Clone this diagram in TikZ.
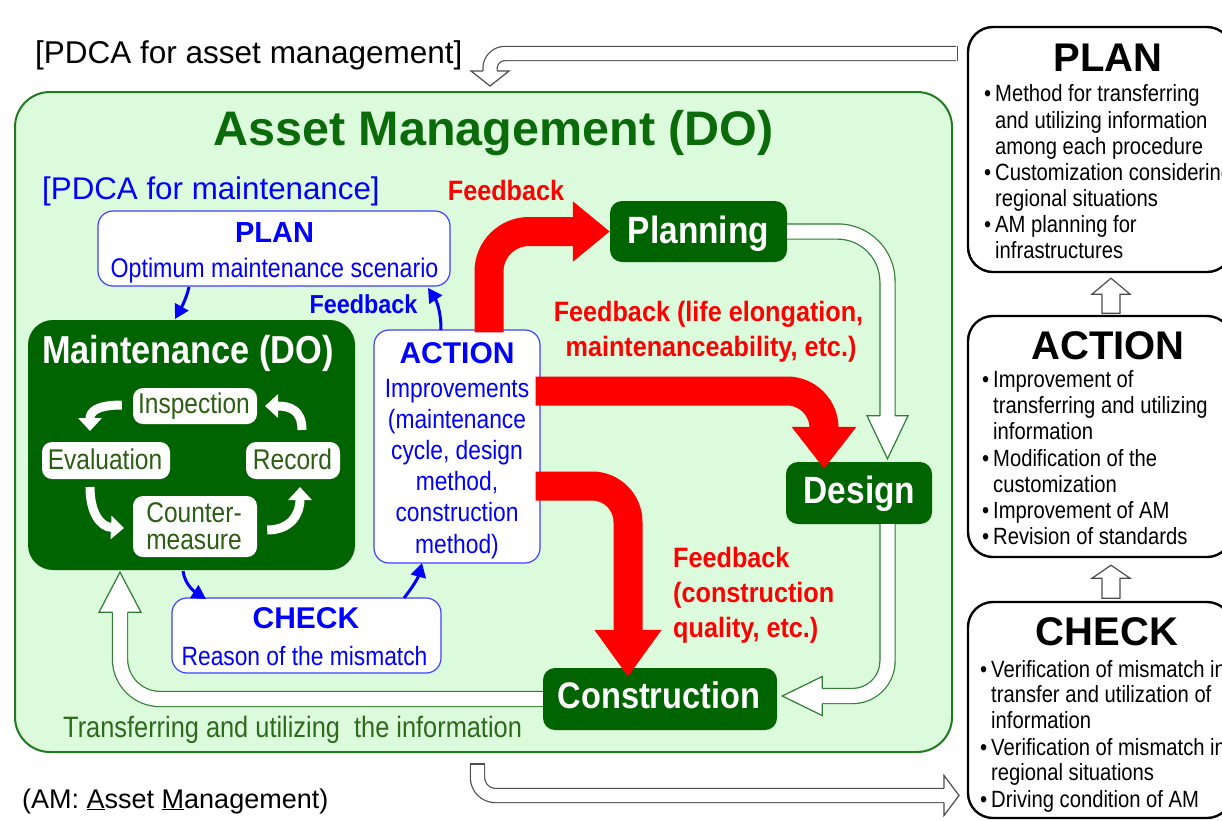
\documentclass[tikz,border=0pt]{standalone}
\usepackage{fontspec}
\setmainfont{Liberation Sans}
\newfontfamily\nar[FakeStretch=0.86]{Liberation Sans}
\newfontfamily\cnd[FakeStretch=0.88]{Liberation Sans}
\newfontfamily\redf[FakeStretch=0.9]{Liberation Sans}
\usetikzlibrary{arrows.meta,calc}
\newcommand\fs[1]{\fontsize{#1}{#1}\selectfont}
\definecolor{dg}{HTML}{006400}
\definecolor{lgreen}{HTML}{DCFADC}
\definecolor{bgstroke}{HTML}{207A20}
\definecolor{tgreen}{HTML}{0B6B0B}
\definecolor{igreen}{HTML}{2B5E12}
\definecolor{ttgreen}{HTML}{2E6A1C}
\definecolor{hstroke}{HTML}{2E7D32}
\definecolor{bblue}{HTML}{0000FF}
\definecolor{bstroke}{HTML}{4040FF}
\definecolor{ogray}{HTML}{4D4D4D}
\newcommand\hhead[6]{%
  \begin{scope}[shift={#1},rotate=#2]
    \fill[white] (0,0) -- (-#3,#4) -- (-#3,-#4) -- cycle;
    \draw[draw=#6,line width=1.2pt,line join=miter] (-#3,#5) -- (-#3,#4) -- (0,0) -- (-#3,-#4) -- (-#3,-#5);
  \end{scope}}
\tikzset{
  lbl/.style={inner sep=0pt, anchor=base},
  lblw/.style={inner sep=0pt, anchor=base west},
  gbox/.style={fill=dg, rounded corners=12pt, inner sep=0pt},
  wbox/.style={fill=white, rounded corners=10pt, inner sep=0pt},
  bbox/.style={draw=bstroke, line width=1.2pt, fill=white, rounded corners=15pt, inner sep=0pt},
  rbox/.style={draw=black, line width=2.4pt, fill=white, rounded corners=25pt, inner sep=0pt},
  holg/.style={draw=hstroke, line width=1.2pt, double=white, double distance=14pt},
  holo/.style={draw=ogray, line width=1.2pt, double=white, double distance=13pt},
  redarr/.style={draw=red, line width=29pt, rounded corners=40pt},
  barr/.style={draw=bblue, line width=3pt, -{Triangle[length=14pt,width=15pt]}},
  warr/.style={draw=white, line width=9pt, -{Triangle[length=13pt,width=23pt]}},
  rtxt/.style={lblw, font=\nar\fs{23.5}},
  atxt/.style={lbl, font=\nar\fs{26.5}, text=bblue},
}
\begin{document}
\begin{tikzpicture}[x=1pt,y=-1pt]
\useasboundingbox (0,0) rectangle (1222,820);
\clip (0,0) rectangle (1222,820);
\fill[white] (0,0) rectangle (1222,820);

% ---------- big asset management box ----------
\node[draw=bgstroke, line width=2pt, fill=lgreen, rounded corners=35pt, minimum width=937pt, minimum height=660pt, inner sep=0pt] (am) at (483.5,422) {};
\node[lbl, font=\fs{48.5}\bfseries, text=tgreen] (amtitle) at (493.5,145) {Asset Management (DO)};
\node[lblw, font=\fs{31.5}] (pdcaam) at (35,63) {[PDCA for asset management]};
\node[lblw, font=\fs{31.3}, text=bblue] (pdcam) at (42,199) {[PDCA for maintenance]};

% ---------- right boxes ----------
\node[rbox, minimum width=264pt, minimum height=245pt] (rplan) at (1100,149.5) {};
\node[rbox, minimum width=264pt, minimum height=241pt] (raction) at (1100,436.5) {};
\node[rbox, minimum width=264pt, minimum height=216pt] (rcheck) at (1100,710) {};

\node[lbl, font=\fs{40}\bfseries] (rplanh) at (1108,71) {PLAN};
\node[rtxt] (rp1) at (995,101.7) {\llap{\textbullet\hspace{4pt}}Method for transferring};
\node[rtxt] (rp2) at (995,128) {and utilizing information};
\node[rtxt] (rp3) at (995,154) {among each procedure};
\node[rtxt] (rp4) at (995,180) {\llap{\textbullet\hspace{4pt}}Customization considering};
\node[rtxt] (rp5) at (995,206) {regional situations};
\node[rtxt] (rp6) at (995,232.5) {\llap{\textbullet\hspace{4pt}}AM planning for};
\node[rtxt] (rp7) at (995,258) {infrastructures};

\node[lbl, font=\fs{40}\bfseries] (ractionh) at (1108,359) {ACTION};
\node[rtxt] (ra1) at (993,387) {\llap{\textbullet\hspace{4pt}}Improvement of};
\node[rtxt] (ra2) at (993,413) {transferring and utilizing};
\node[rtxt] (ra3) at (993,439) {information};
\node[rtxt] (ra4) at (993,466) {\llap{\textbullet\hspace{4pt}}Modification of the};
\node[rtxt] (ra5) at (993,492) {customization};
\node[rtxt] (ra6) at (993,518) {\llap{\textbullet\hspace{4pt}}Improvement of AM};
\node[rtxt] (ra7) at (993,544) {\llap{\textbullet\hspace{4pt}}Revision of standards};

\node[lbl, font=\fs{40}\bfseries] (rcheckh) at (1107,645) {CHECK};
\node[rtxt] (rc1) at (991,677) {\llap{\textbullet\hspace{4pt}}Verification of mismatch in};
\node[rtxt] (rc2) at (991,702) {transfer and utilization of};
\node[rtxt] (rc3) at (991,728) {information};
\node[rtxt] (rc4) at (991,755) {\llap{\textbullet\hspace{4pt}}Verification of mismatch in};
\node[rtxt] (rc5) at (991,780) {regional situations};
\node[rtxt] (rc6) at (991,807) {\llap{\textbullet\hspace{4pt}}Driving condition of AM};

% up arrows between right boxes
\draw[ogray, line width=1.2pt, fill=white] ($(rplan.south)+(11,5)$) -- ++(-19,16) -- ++(10,0) -- ++(0,19) -- ++(18,0) -- ++(0,-19) -- ++(10,0) -- cycle;
\draw[ogray, line width=1.2pt, fill=white] ($(raction.south)+(11,7)$) -- ++(-19,13) -- ++(10,0) -- ++(0,20) -- ++(18,0) -- ++(0,-20) -- ++(10,0) -- cycle;

% top and bottom outer hollow arrows
\draw[holo, rounded corners=15pt] ($(rplan.west)+(-11,-96)$) -- (490,53.5) -- (490,71);
\draw[ogray, line width=1.2pt] (957.4,46.4) -- (957.4,60.6);
\hhead{(490,86)}{-90}{15}{19}{7.1}{ogray}
\draw[holo, rounded corners=18pt] ($(am.south)+(-6,12)$) -- (477.5,795.5) -- (944,795.5);
\draw[ogray, line width=1.2pt] (470.4,764) -- (484.6,764);
\hhead{(959,795.5)}{0}{15}{20}{7.1}{ogray}

% ---------- PDCA for maintenance ----------
\node[bbox, minimum width=352pt, minimum height=75pt] (plan) at (274,248.5) {};
\node[lbl, font=\fs{29}\bfseries, text=bblue] (planh) at (274.5,242.5) {PLAN};
\node[lbl, font=\nar\fs{27}, text=bblue] (plant) at (274.5,277) {Optimum maintenance scenario};

\node[fill=dg, rounded corners=25pt, minimum width=327pt, minimum height=250pt, inner sep=0pt] (maint) at (191.5,445) {};
\node[lbl, font=\cnd\fs{39}\bfseries, text=white] (mainth) at (188,363) {Maintenance (DO)};
\node[wbox, minimum width=124pt, minimum height=36pt] (insp) at (195,406) {};
\node[wbox, minimum width=128pt, minimum height=37pt] (eval) at (106,460.5) {};
\node[wbox, minimum width=94pt, minimum height=37pt] (rec) at (293,460.5) {};
\node[wbox, minimum width=124pt, minimum height=61pt] (cm) at (195,526.5) {};
\node[lbl, font=\nar\fs{28.5}, text=igreen] (inspt) at (194,413) {Inspection};
\node[lbl, font=\nar\fs{28.5}, text=igreen] (evalt) at (105,469) {Evaluation};
\node[lbl, font=\nar\fs{28.5}, text=igreen] (rect) at (292.5,469) {Record};
\node[lbl, font=\nar\fs{28.5}, text=igreen] (cmt1) at (194,522) {Counter-};
\node[lbl, font=\nar\fs{28.5}, text=igreen] (cmt2) at (194,549) {measure};

\draw[warr] (insp.west) ++(-11,-1) .. controls (96,405) and (90,412) .. (90,431);
\draw[warr] (90,487) .. controls (90,512) and (100,527) .. (124,528);
\draw[warr] (cm.east) ++(10,3.5) .. controls (290,530) and (300,515) .. (300,487);
\draw[warr] (302,430) .. controls (302,410) and (290,406) .. (265,406);

\node[bbox, minimum width=166pt, minimum height=233pt] (action) at (457,446.5) {};
\node[lbl, font=\fs{30}\bfseries, text=bblue] (actionh) at (457,363) {ACTION};
\node[atxt] (actl0) at (457,397) {Improvements};
\node[atxt] (actl1) at (457,428.2) {(maintenance};
\node[atxt] (actl2) at (457,459.4) {cycle, design};
\node[atxt] (actl3) at (457,490.6) {method,};
\node[atxt] (actl4) at (457,521.8) {construction};
\node[atxt] (actl5) at (457,553) {method)};

\node[bbox, minimum width=269pt, minimum height=75pt] (check) at (306.5,635.5) {};
\node[lbl, font=\fs{30}\bfseries, text=bblue] (checkh) at (306,628) {CHECK};
\node[lbl, font=\nar\fs{26.5}, text=bblue] (checkt) at (304.5,665) {Reason of the mismatch};

\draw[barr] (189,287) .. controls (186,300) and (180,310) .. (175,319);
\draw[barr] (441,330) .. controls (441,310) and (436,300) .. (428,288);
\draw[barr] (183,571) .. controls (185,585) and (195,592) .. (206,599);
\draw[barr] (404,598) .. controls (412,588) and (418,578) .. (422,563);
\node[lbl, font=\redf\fs{26}\bfseries, text=bblue] (fbblue) at (363.5,313) {Feedback};

% ---------- Planning / Design / Construction ----------
\node[gbox, minimum width=177pt, minimum height=61pt] (planning) at (698.5,231.5) {};
\node[gbox, minimum width=146pt, minimum height=62pt] (design) at (859,493) {};
\node[gbox, minimum width=234pt, minimum height=62pt] (construction) at (660,699) {};
\node[lbl, font=\cnd\fs{38}\bfseries, text=white] (planningt) at (698.5,243) {Planning};
\node[lbl, font=\cnd\fs{38}\bfseries, text=white] (designt) at (859.5,503) {Design};
\node[lbl, font=\cnd\fs{37}\bfseries, text=white] (constructiont) at (659,708) {Construction};

% green hollow arrows
\draw[holg, rounded corners=50pt] (planning.east) -| ($(design.north)+(28.5,-46)$);
\hhead{($(design.north)+(28.5,-3)$)}{-90}{43}{20.5}{7.6}{hstroke}
\draw[holg, rounded corners=35pt] ($(design.south)+(28.5,0)$) |- ($(construction.east)+(45,-3)$);
\hhead{($(construction.east)+(5,-3)$)}{180}{40}{19.5}{7.6}{hstroke}
\draw[holg, rounded corners=40pt] (construction.west) -| ($(maint.south)+(-71.5,42)$);
\hhead{($(maint.south)+(-71.5,2)$)}{90}{40}{21}{7.6}{hstroke}
\node[lblw, font=\nar\fs{29.5}, text=ttgreen] (transt) at (63,737) {Transferring and utilizing\ \ the information};

% red feedback arrows
\draw[redarr, -{Triangle[length=37pt,width=58pt]}] ($(action.north)+(32,3)$) |- (planning.west);
\draw[redarr, rounded corners=37pt, -{Triangle[length=42pt,width=62pt]}] ($(action.east)+(-5,-55.5)$) -| ($(design.north)+(-35,7)$);
\draw[redarr, rounded corners=36pt, -{Triangle[length=47pt,width=64pt]}] ($(action.east)+(-5,39.5)$) -| ($(construction.north)+(-32,9)$);

\node[lbl, font=\redf\fs{28}\bfseries, text=red] (fb1) at (506,200) {Feedback};
\node[lbl, font=\redf\fs{28}\bfseries, text=red] (fb2a) at (708.5,321) {Feedback (life elongation,};
\node[lbl, font=\redf\fs{28}\bfseries, text=red] (fb2b) at (711,356) {maintenanceability, etc.)};
\node[lblw, font=\redf\fs{28}\bfseries, text=red] (fb3a) at (673,567) {Feedback};
\node[lblw, font=\redf\fs{28}\bfseries, text=red] (fb3b) at (673,602) {(construction};
\node[lblw, font=\redf\fs{28}\bfseries, text=red] (fb3c) at (673,637) {quality, etc.)};

\node[lblw, font=\fs{27}] (amnote) at (22,808) {(AM: \underline{A}sset \underline{M}anagement)};
\end{tikzpicture}
\end{document}
